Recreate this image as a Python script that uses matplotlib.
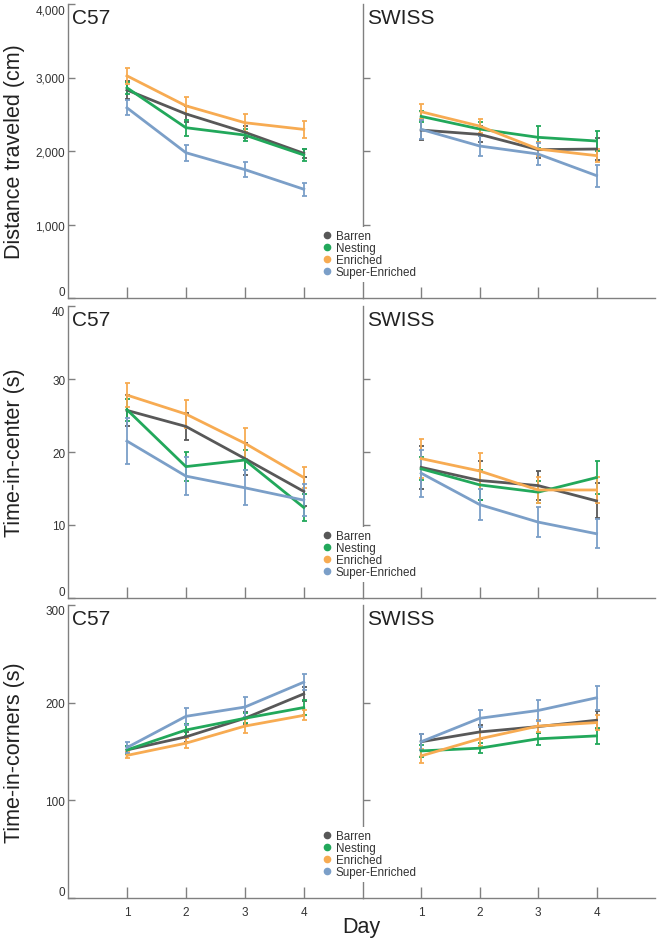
import matplotlib
matplotlib.use('Agg')
import matplotlib.pyplot as plt
from matplotlib.lines import Line2D
from matplotlib.ticker import StrMethodFormatter

plt.rcParams['font.family'] = ['Liberation Sans', 'DejaVu Sans']

days = [1, 2, 3, 4]
groups = ['Barren', 'Nesting', 'Enriched', 'Super-Enriched']
colors = ['#585858', '#22a85b', '#f7ab52', '#7b9fc8']

# distance traveled (cm), mean and error per group
dist_c57 = {'Barren': [2830, 2505, 2255, 1968],
            'Nesting': [2860, 2317, 2217, 1946],
            'Enriched': [3023, 2615, 2385, 2294],
            'Super-Enriched': [2588, 1977, 1747, 1480]}
dist_c57_err = {'Barren': [120, 110, 80, 60],
                'Nesting': [80, 110, 80, 80],
                'Enriched': [110, 115, 125, 115],
                'Super-Enriched': [100, 110, 100, 90]}
dist_swiss = {'Barren': [2285, 2226, 2018, 2027],
              'Nesting': [2471, 2299, 2186, 2136],
              'Enriched': [2534, 2339, 2027, 1937],
              'Super-Enriched': [2294, 2068, 1959, 1665]}
dist_swiss_err = {'Barren': [135, 110, 110, 150],
                  'Nesting': [80, 100, 150, 140],
                  'Enriched': [100, 100, 100, 90],
                  'Super-Enriched': [130, 130, 150, 150]}

# time-in-center (s)
center_c57 = {'Barren': [25.7, 23.5, 19.1, 14.6],
              'Nesting': [25.8, 18.0, 18.9, 12.4],
              'Enriched': [27.8, 25.2, 21.2, 16.5],
              'Super-Enriched': [21.5, 16.7, 15.1, 13.4]}
center_c57_err = {'Barren': [2.1, 1.9, 2.2, 2.0],
                  'Nesting': [1.5, 2.0, 1.4, 1.8],
                  'Enriched': [1.7, 1.9, 2.1, 1.4],
                  'Super-Enriched': [3.2, 2.6, 2.4, 2.2]}
center_swiss = {'Barren': [17.9, 16.1, 15.4, 13.3],
                'Nesting': [17.7, 15.5, 14.5, 16.5],
                'Enriched': [19.1, 17.4, 14.8, 14.8],
                'Super-Enriched': [17.1, 12.8, 10.4, 8.8]}
center_swiss_err = {'Barren': [2.9, 2.7, 2.0, 2.4],
                    'Nesting': [1.6, 2.1, 1.5, 2.3],
                    'Enriched': [2.7, 2.5, 1.8, 1.8],
                    'Super-Enriched': [3.2, 2.1, 2.0, 2.0]}

# time-in-corners (s)
corners_c57 = {'Barren': [151.6, 165, 184, 209],
               'Nesting': [151.6, 172, 184, 195],
               'Enriched': [146, 158.5, 176, 187],
               'Super-Enriched': [154, 186, 195.5, 221]}
corners_c57_err = {'Barren': [4, 5, 6, 7],
                   'Nesting': [4, 6, 5, 8],
                   'Enriched': [3, 5, 7, 5],
                   'Super-Enriched': [6, 9, 10, 8]}
corners_swiss = {'Barren': [160, 170, 175.5, 182],
                 'Nesting': [150.6, 153.4, 163, 166],
                 'Enriched': [145.5, 163, 176, 179.6],
                 'Super-Enriched': [160, 184, 192, 205]}
corners_swiss_err = {'Barren': [8, 7, 7, 9],
                     'Nesting': [6, 5, 6, 8],
                     'Enriched': [7, 7, 6, 8],
                     'Super-Enriched': [8, 9, 11, 12]}

rows = [
    ('Distance traveled (cm)', 4000, [0, 1000, 2000, 3000, 4000],
     dist_c57, dist_c57_err, dist_swiss, dist_swiss_err),
    ('Time-in-center (s)', 40, [0, 10, 20, 30, 40],
     center_c57, center_c57_err, center_swiss, center_swiss_err),
    ('Time-in-corners (s)', 300, [0, 100, 200, 300],
     corners_c57, corners_c57_err, corners_swiss, corners_swiss_err),
]

W, H = 662, 945
fig = plt.figure(figsize=(W / 100, H / 100), dpi=100)

row_px = [(5, 299), (307, 599), (606, 899)]
left_x, mid_x, right_x = 68, 362.7, 655
spine_col = '#808080'
text_col = '#333333'

for r, (ylabel, ymax, yticks, c57, c57e, sw, swe) in enumerate(rows):
    top, bot = row_px[r]
    b = 1 - bot / H
    h = (bot - top) / H
    axl = fig.add_axes([left_x / W, b, (mid_x - left_x) / W, h])
    axr = fig.add_axes([mid_x / W, b, (right_x - mid_x) / W, h])

    for ax, data, err in ((axl, c57, c57e), (axr, sw, swe)):
        for g, col in zip(groups, colors):
            ax.errorbar(days, data[g], yerr=err[g], color=col, lw=2,
                        elinewidth=1.3, capsize=1.8, capthick=1.3)
        ax.set_xlim(0, 5)
        ax.set_ylim(0, ymax)
        ax.set_xticks(days)
        for s in ('top', 'right'):
            ax.spines[s].set_visible(False)
        for s in ('left', 'bottom'):
            ax.spines[s].set_color(spine_col)
            ax.spines[s].set_linewidth(1.0)
        ax.tick_params(axis='x', direction='in', length=8, width=1,
                       color=spine_col, pad=6, labelsize=8.5,
                       labelcolor=text_col)
        ax.tick_params(axis='y', direction='in', length=5, width=1,
                       color=spine_col, pad=2, labelsize=8.5,
                       labelcolor=text_col)
        if r < 2:
            ax.set_xticklabels([])

    axl.set_yticks(yticks)
    axl.yaxis.set_major_formatter(StrMethodFormatter('{x:,.0f}'))
    ylabs = axl.get_yticklabels()
    ylabs[0].set_verticalalignment('bottom')
    ylabs[-1].set_verticalalignment('top')
    axr.set_yticks(yticks[1:-1])
    axr.set_yticklabels([])

    axl.text(0.013, 0.985, 'C57', transform=axl.transAxes, fontsize=15,
             va='top', ha='left', color='#222222')
    axr.text(0.014, 0.985, 'SWISS', transform=axr.transAxes, fontsize=15,
             va='top', ha='left', color='#222222')

    fig.text(0.022, 1 - (top + bot) / 2 / H, ylabel, rotation=90,
             fontsize=15.5, ha='center', va='center', color='#222222')

    handles = [Line2D([], [], marker='o', ls='none', color=c, markersize=4.5)
               for c in colors]
    fig.legend(handles, groups, loc='upper left',
               bbox_to_anchor=(318.5 / W, 1 - (bot - 71.3) / H),
               fontsize=8.4, frameon=True, edgecolor='none', framealpha=1,
               facecolor='white', fancybox=False, borderpad=0.3,
               borderaxespad=0, handlelength=0.8, handletextpad=0.4,
               labelspacing=0.0, labelcolor=text_col)

fig.text(361.5 / W, 1 - 928 / H, 'Day', fontsize=15.5, ha='center',
         va='center', color='#222222')

fig.savefig('out.png', dpi=100)
